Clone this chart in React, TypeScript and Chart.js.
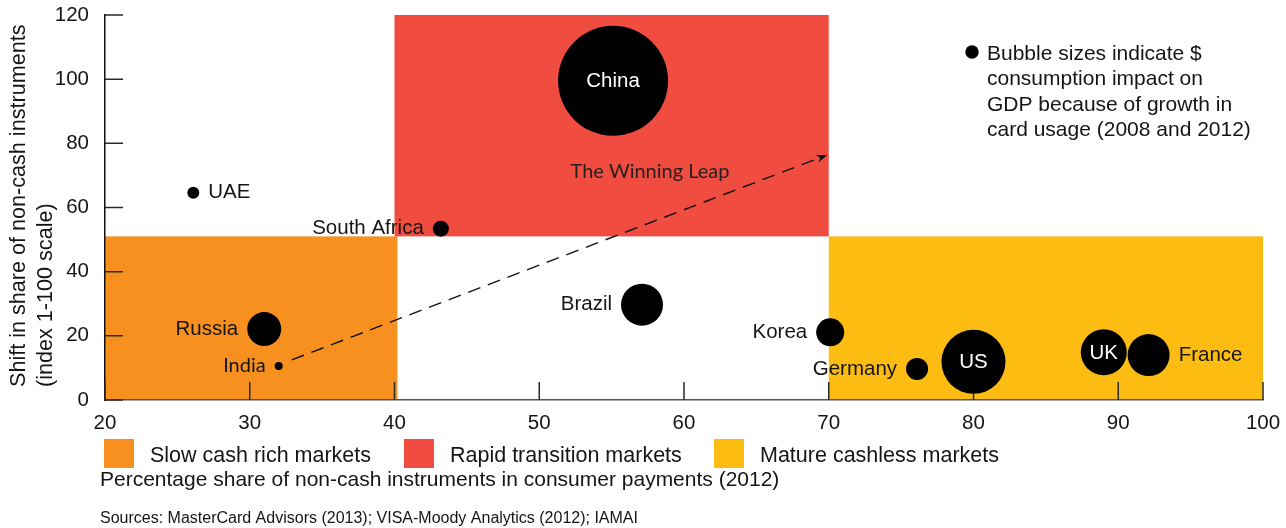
import { useEffect, useRef } from 'react';
import { Chart, registerables, BubbleController } from 'chart.js';

Chart.register(...registerables);

// Bubble controller that does not enlarge the layout padding for big bubbles
class PlainBubbleController extends BubbleController {
  static id = 'plainBubble';
  static defaults = BubbleController.defaults;
  static overrides = BubbleController.overrides;
  getMaxOverflow() {
    return false as any;
  }
}
Chart.register(PlainBubbleController);

// ---- Data ----
const countries = ['China', 'UAE', 'South Africa', 'Russia', 'India', 'Brazil', 'Korea', 'Germany', 'US', 'UK', 'France'];
const cashShare = [55.1, 26.1, 43.2, 31.0, 32.0, 57.1, 70.1, 76.1, 80.0, 89.0, 92.1];
const shiftIndex = [99.5, 64.6, 53.4, 22.1, 10.6, 29.7, 21.1, 9.7, 11.9, 14.9, 14.0];
const impactRadius = [55, 6, 8, 17, 4, 21, 14, 11, 32, 23, 21];
const labelSide = ['inside', 'right', 'left', 'left', 'left', 'left', 'left', 'left', 'inside', 'inside', 'right'];

const regionNames = ['Slow cash rich markets', 'Rapid transition markets', 'Mature cashless markets'];
const regionColors = ['#F7901E', '#F04C40', '#FCBC12'];
const regionXMin = [20, 40, 70];
const regionXMax = [40.2, 70, 100];
const regionYMin = [0, 51, 0];
const regionYMax = [51, 120, 51];

const arrowFrom = { x: 32.9, y: 12.5 };
const arrowTo = { x: 69.9, y: 76.4 };

const xTicks = [20, 30, 40, 50, 60, 70, 80, 90, 100];
const yTicks = [0, 20, 40, 60, 80, 100, 120];

const bubbleNote = ['Bubble sizes indicate $', 'consumption impact on', 'GDP because of growth in', 'card usage (2008 and 2012)'];
const yTitle = ['Shift in share of non-cash instruments', '(index 1-100 scale)'];
const xTitle = 'Percentage share of non-cash instruments in consumer payments (2012)';
const sourceText = 'Sources: MasterCard Advisors (2013); VISA-Moody Analytics (2012); IAMAI';
const zoneLabel = 'The Winning Leap';

const FONT = '"Liberation Sans", Arial, Helvetica, sans-serif';
const TEXT = '#151515';

const zeroPad = (s: any) => {
  s.paddingTop = 0;
  s.paddingBottom = 0;
  s.paddingLeft = 0;
  s.paddingRight = 0;
};

const regionPlugin = {
  id: 'regions',
  beforeDraw(chart: any) {
    const { ctx, scales } = chart;
    const x = scales.x, y = scales.y;
    ctx.save();
    for (let i = 0; i < regionNames.length; i++) {
      const x0 = x.getPixelForValue(regionXMin[i]);
      const x1 = x.getPixelForValue(regionXMax[i]);
      const y0 = y.getPixelForValue(regionYMax[i]);
      const y1 = y.getPixelForValue(regionYMin[i]);
      ctx.fillStyle = regionColors[i];
      ctx.fillRect(x0, y0, x1 - x0, y1 - y0);
    }
    ctx.restore();
  },
  beforeDatasetsDraw(chart: any) {
    const { ctx, scales, chartArea } = chart;
    const x = scales.x, y = scales.y;
    ctx.save();
    // inward tick marks
    ctx.strokeStyle = '#2a2a2a';
    ctx.lineWidth = 1.5;
    ctx.beginPath();
    for (const t of xTicks) {
      const px = x.getPixelForValue(t);
      ctx.moveTo(px, chartArea.bottom);
      ctx.lineTo(px, chartArea.bottom - 18);
    }
    for (const t of yTicks) {
      const py = y.getPixelForValue(t);
      ctx.moveTo(chartArea.left, py);
      ctx.lineTo(chartArea.left + 18, py);
    }
    ctx.stroke();
    // dashed arrow
    const ax0 = x.getPixelForValue(arrowFrom.x), ay0 = y.getPixelForValue(arrowFrom.y);
    const ax1 = x.getPixelForValue(arrowTo.x), ay1 = y.getPixelForValue(arrowTo.y);
    const ang = Math.atan2(ay1 - ay0, ax1 - ax0);
    const headLen = 11;
    const c = Math.cos(ang), s = Math.sin(ang);
    ctx.strokeStyle = '#111';
    ctx.lineWidth = 1.4;
    ctx.setLineDash([13, 8]);
    ctx.beginPath();
    ctx.moveTo(ax0, ay0);
    ctx.lineTo(ax1 - headLen * 0.7 * c, ay1 - headLen * 0.7 * s);
    ctx.stroke();
    ctx.setLineDash([]);
    ctx.fillStyle = '#111';
    ctx.beginPath();
    ctx.moveTo(ax1, ay1);
    ctx.lineTo(ax1 - headLen * c + 4 * s, ay1 - headLen * s - 4 * c);
    ctx.lineTo(ax1 - headLen * 0.7 * c, ay1 - headLen * 0.7 * s);
    ctx.lineTo(ax1 - headLen * c - 4 * s, ay1 - headLen * s + 4 * c);
    ctx.closePath();
    ctx.fill();
    // zone label
    ctx.font = '20px Lato, "Open Sans", sans-serif';
    ctx.fillStyle = '#231f20';
    ctx.textAlign = 'center';
    ctx.textBaseline = 'alphabetic';
    ctx.fillText(zoneLabel, 650, 178);
    ctx.restore();
  },
  afterDatasetsDraw(chart: any) {
    const { ctx } = chart;
    const meta = chart.getDatasetMeta(0);
    ctx.save();
    ctx.textBaseline = 'middle';
    meta.data.forEach((el: any, i: number) => {
      const side = labelSide[i];
      const r = impactRadius[i];
      const name = countries[i];
      ctx.font = name === 'India' ? '20px Lato, sans-serif' : `20.5px ${FONT}`;
      if (side === 'inside') {
        ctx.fillStyle = '#fff';
        ctx.textAlign = 'center';
        ctx.fillText(name, el.x, el.y + 1);
      } else if (side === 'left') {
        ctx.fillStyle = TEXT;
        ctx.textAlign = 'right';
        ctx.fillText(name, el.x - r - 9, el.y);
      } else {
        ctx.fillStyle = TEXT;
        ctx.textAlign = 'left';
        ctx.fillText(name, el.x + r + 9, el.y);
      }
    });
    ctx.restore();
  },
  afterDraw(chart: any) {
    const { ctx } = chart;
    ctx.save();
    // bubble-size note
    ctx.fillStyle = '#000';
    ctx.beginPath();
    ctx.arc(972, 52, 6.7, 0, Math.PI * 2);
    ctx.fill();
    ctx.font = `21px ${FONT}`;
    ctx.fillStyle = TEXT;
    ctx.textAlign = 'left';
    ctx.textBaseline = 'alphabetic';
    bubbleNote.forEach((line, i) => ctx.fillText(line, 987, 60 + i * 25.3));
    // y axis title
    ctx.font = `21.6px ${FONT}`;
    yTitle.forEach((line, i) => {
      ctx.save();
      ctx.translate(19 + i * 27, 387);
      ctx.rotate(-Math.PI / 2);
      ctx.textAlign = 'left';
      ctx.textBaseline = 'middle';
      ctx.fillText(line, 0, 0);
      ctx.restore();
    });
    // bottom legend
    const legendX = [104, 404, 714];
    ctx.textBaseline = 'middle';
    ctx.font = `21.5px ${FONT}`;
    regionNames.forEach((name, i) => {
      ctx.fillStyle = regionColors[i];
      ctx.fillRect(legendX[i], 439, 30, 29);
      ctx.fillStyle = TEXT;
      ctx.fillText(name, legendX[i] + 46, 456);
    });
    // x axis title and sources
    ctx.font = `21px ${FONT}`;
    ctx.textBaseline = 'alphabetic';
    ctx.fillText(xTitle, 100, 486);
    ctx.font = `16px ${FONT}`;
    ctx.fillText(sourceText, 100, 523);
    ctx.restore();
  },
};

export default function App() {
  const ref = useRef<HTMLCanvasElement>(null);
  useEffect(() => {
    document.body.style.margin = '0';
    const chart = new Chart(ref.current!, {
      type: 'plainBubble',
      data: {
        datasets: [
          {
            label: 'Countries',
            data: countries.map((_, i) => ({ x: cashShare[i], y: shiftIndex[i], r: impactRadius[i] })),
            backgroundColor: '#000',
            borderWidth: 0,
            hoverRadius: 0,
            clip: false,
          },
        ],
      },
      options: {
        responsive: false,
        animation: false,
        devicePixelRatio: 1,
        events: [],
        layout: { padding: { left: 0, right: 23, top: 15, bottom: 0 } },
        plugins: { legend: { display: false }, tooltip: { enabled: false } },
        scales: {
          x: {
            type: 'linear',
            position: 'bottom',
            min: 20,
            max: 100,
            afterBuildTicks: (s: any) => { s.ticks = xTicks.map((v) => ({ value: v })); },
            ticks: { font: { size: 20.5, family: FONT }, color: TEXT, padding: 11 },
            grid: { display: false, drawTicks: false },
            border: { display: true, color: '#555', width: 1.5 },
            afterFit: (s: any) => { s.height = 128; zeroPad(s); },
          },
          y: {
            type: 'linear',
            position: 'left',
            min: 0,
            max: 120,
            afterBuildTicks: (s: any) => { s.ticks = yTicks.map((v) => ({ value: v })); },
            ticks: { font: { size: 20.5, family: FONT }, color: TEXT, padding: 16 },
            grid: { display: false, drawTicks: false },
            border: { display: true, color: '#111', width: 1.5 },
            afterFit: (s: any) => { s.width = 105; zeroPad(s); },
          },
        },
      },
      plugins: [regionPlugin],
    } as any);
    return () => chart.destroy();
  }, []);
  return (
    <div style={{ position: 'absolute', left: 0, top: 0 }}>
      <canvas ref={ref} width={1286} height={528} style={{ display: 'block' }} />
    </div>
  );
}
